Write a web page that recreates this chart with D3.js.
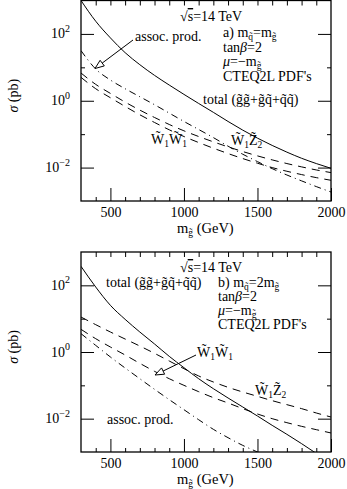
<!DOCTYPE html>
<html>
<head>
<meta charset="utf-8">
<script src="https://cdn.jsdelivr.net/npm/d3@7"></script>
<style>
body { margin: 0; background: #fff; }
svg { display: block; }
text { font-family: "Liberation Serif", "Times New Roman", serif; fill: #000; }
</style>
</head>
<body>
<div id="chart"></div>
<script>
// gluino mass grid (GeV)
var masses = [300,400,500,600,700,800,900,1000,1100,1200,1300,1400,1500,1600,1700,1800,1900,2000];

// panel a) m_squark = m_gluino, sigma in pb
var totalA = [1000,240,76,27.5,12,5.75,2.95,1.55,0.83,0.45,0.24,0.132,0.076,0.046,0.029,0.019,0.0132,0.0095];
var assocA = [31.6,8.9,4.17,2.29,1.32,0.76,0.427,0.24,0.138,0.079,0.0437,0.0251,0.0151,0.0093,0.006,0.004,0.0027,0.00186];
var w1z2A  = [6.76,3.09,1.66,0.912,0.525,0.316,0.195,0.126,0.0851,0.0589,0.0417,0.0302,0.0224,0.017,0.0132,0.0105,0.0085,0.00708];
var w1w1A  = [5.01,2.29,1.23,0.676,0.38,0.224,0.135,0.0851,0.0562,0.038,0.0263,0.0186,0.0135,0.01,0.00776,0.00617,0.00501,0.00417];

// panel b) m_squark = 2 m_gluino
var totalB = [372,89,25.1,9.55,3.98,1.74,0.741,0.339,0.158,0.0794,0.0417,0.0224,0.012,0.0063,0.00339,0.00178,0.00091,0.0005];
var assocB = [3.55,1.58,0.708,0.331,0.158,0.0759,0.0372,0.0186,0.0093,0.00479,0.00269,0.00158,0.001,0.00063];
var w1z2B  = [11.2,6.61,3.98,2.45,1.51,0.912,0.537,0.316,0.191,0.126,0.0871,0.0631,0.0468,0.0347,0.0263,0.02,0.0148,0.0112];
var w1w1B  = [4.79,2.51,1.41,0.813,0.457,0.263,0.158,0.1,0.0646,0.0427,0.0295,0.02,0.0138,0.01,0.00759,0.00589,0.00468,0.00372];

// ticks
var xMajor = [500,1000,1500,2000];
var xMinor = [400,600,700,800,900,1100,1200,1300,1400,1600,1700,1800,1900];
var xTop   = [400,500,600,700,800,900,1000,1100,1200,1300,1400,1500,1600,1700,1800,1900];
var yMajorExp = [-2,0,2];
var yMinorExp = [-1,1];

var W = 347, H = 489;
var left = 81, right = 331;
var panels = [
    {id: "a", top: 0.5, bottom: 201, total: totalA, assoc: assocA, w1z2: w1z2A, w1w1: w1w1A},
    {id: "b", top: 252, bottom: 452, total: totalB, assoc: assocB, w1z2: w1z2B, w1w1: w1w1B}
];

var svg = d3.select("#chart").append("svg")
    .attr("width", W)
    .attr("height", H);

var x = d3.scaleLinear().domain([300, 2000]).range([left, right]);

// rich text: parts = [text, shift(px, +down), fontSize, italic]
function rich(sel, parts, size) {
    var cur = 0;
    parts.forEach(function(p) {
        var shift = p[1] || 0;
        var t = sel.append("tspan")
            .attr("dy", shift - cur)
            .style("font-size", (p[2] || size) + "px")
            .text(p[0]);
        if (p[3]) t.style("font-style", "italic");
        cur = shift;
    });
    return sel;
}

function label(g, px, py, parts, size) {
    var t = g.append("text").attr("x", px).attr("y", py).style("font-size", size + "px");
    rich(t, parts, size);
    return t;
}

function arrow(g, x1, y1, x2, y2) {
    var dx = x1 - x2, dy = y1 - y2, len = Math.sqrt(dx*dx + dy*dy);
    var ux = dx / len, uy = dy / len, hl = 9, hw = 3.5;
    var bx = x2 + ux * hl, by = y2 + uy * hl;
    g.append("line")
        .attr("x1", x1).attr("y1", y1).attr("x2", bx).attr("y2", by)
        .attr("stroke", "#000").attr("stroke-width", 1);
    g.append("path")
        .attr("d", "M" + x2 + "," + y2 + "L" + (bx - uy*hw) + "," + (by + ux*hw) +
                   "L" + (bx + uy*hw) + "," + (by - ux*hw) + "Z")
        .attr("fill", "#fff").attr("stroke", "#000").attr("stroke-width", 1);
}

var T = "\u0303"; // combining tilde
var sub = 3, subSize = 9.5;

panels.forEach(function(p) {
    var y = d3.scaleLog().domain([1e-3, 1e3]).range([p.bottom, p.top]);
    var g = svg.append("g");

    g.append("clipPath").attr("id", "clip" + p.id)
        .append("rect").attr("x", left).attr("y", p.top)
        .attr("width", right - left).attr("height", p.bottom - p.top);

    // axes (ticks pointing inward)
    var ax = g.append("g").attr("transform", "translate(0," + p.bottom + ")")
        .call(d3.axisBottom(x).tickValues(xMajor).tickSize(-13).tickPadding(6).tickFormat(d3.format("d")));
    ax.selectAll("text").style("font-size", "14px").style("font-family", "Liberation Serif");
    g.append("g").attr("transform", "translate(0," + p.bottom + ")")
        .call(d3.axisBottom(x).tickValues(xMinor).tickSize(-4).tickFormat(""));
    g.append("g").attr("transform", "translate(0," + p.top + ")")
        .call(d3.axisTop(x).tickValues(xTop).tickSize(-5).tickFormat(""));

    var yMaj = yMajorExp.map(function(e) { return Math.pow(10, e); });
    var yMin = yMinorExp.map(function(e) { return Math.pow(10, e); });
    g.append("g").attr("transform", "translate(" + left + ",0)")
        .call(d3.axisLeft(y).tickValues(yMaj).tickSize(-13).tickFormat(""));
    g.append("g").attr("transform", "translate(" + left + ",0)")
        .call(d3.axisLeft(y).tickValues(yMin).tickSize(-4).tickFormat(""));
    g.append("g").attr("transform", "translate(" + right + ",0)")
        .call(d3.axisRight(y).tickValues(yMaj).tickSize(-13).tickFormat(""));
    g.append("g").attr("transform", "translate(" + right + ",0)")
        .call(d3.axisRight(y).tickValues(yMin).tickSize(-4).tickFormat(""));
    g.selectAll(".domain").remove();

    yMajorExp.forEach(function(e) {
        var t = g.append("text")
            .attr("x", 70).attr("y", y(Math.pow(10, e)) + 4.5)
            .attr("text-anchor", "end").style("font-size", "14px");
        rich(t, [["10", 0, 14], [e < 0 ? "\u2212" + (-e) : String(e), -6.5, 10]], 14);
    });

    // frame
    g.append("rect")
        .attr("x", left).attr("y", p.top)
        .attr("width", right - left).attr("height", p.bottom - p.top)
        .attr("fill", "none").attr("stroke", "#000").attr("stroke-width", 1.3);

    // curves
    var line = d3.line()
        .x(function(d) { return x(d[0]); })
        .y(function(d) { return y(d[1]); })
        .curve(d3.curveMonotoneX);
    function zip(vals) { return vals.map(function(v, i) { return [masses[i], v]; }); }
    var curves = g.append("g").attr("clip-path", "url(#clip" + p.id + ")");
    [[p.total, null], [p.w1z2, "8,6"], [p.w1w1, "8,6"], [p.assoc, "7,4,1,4"]].forEach(function(c) {
        curves.append("path")
            .attr("d", line(zip(c[0])))
            .attr("fill", "none")
            .attr("stroke", "#000")
            .attr("stroke-width", 1)
            .attr("stroke-dasharray", c[1]);
    });

    // axis titles
    var xt = g.append("text").attr("x", 177).attr("y", p.bottom + 32).style("font-size", "14.5px");
    rich(xt, [["m", 0, 14.5], ["g" + T, sub, subSize], [" (GeV)", 0, 14.5]], 14.5);
    g.append("text")
        .attr("transform", "translate(18," + ((p.top + p.bottom) / 2 - 5) + ") rotate(-90)")
        .attr("text-anchor", "middle").style("font-size", "14px")
        .call(function(t) { rich(t, [["\u03c3", 0, 14, true], [" (pb)", 0, 14]], 14); });
});

// annotations
var ann = svg.append("g");
var fs = 14;
function sqrtS(py) {
    var t = label(ann, 180, py, [["\u221a", 0, fs]], fs);
    t.append("tspan").style("text-decoration", "overline").text("s");
    t.append("tspan").text("=14 TeV");
}

// panel a
sqrtS(21);
label(ann, 223, 37, [["a) m", 0, fs], ["q" + T, sub, subSize], ["=m", 0, fs], ["g" + T, sub, subSize]], fs);
label(ann, 223, 51.5, [["tan", 0, fs], ["\u03b2", 0, fs, true], ["=2", 0, fs]], fs);
label(ann, 223, 66, [["\u03bc", 0, fs, true], ["=\u2212m", 0, fs], ["g" + T, sub, subSize]], fs);
label(ann, 223, 81, [["CTEQ2L PDF's", 0, fs]], fs);
label(ann, 135, 41, [["assoc. prod.", 0, fs]], fs);
arrow(ann, 133, 40, 95, 68.5);
label(ann, 203, 104, [["total (g" + T + "g" + T + "+g" + T + "q" + T + "+q" + T + "q" + T + ")", 0, fs]], fs);
label(ann, 151, 144, [["W" + T, 0, fs], ["1", sub, subSize], ["W" + T, 0, fs], ["1", sub, subSize]], fs);
label(ann, 231, 145, [["W" + T, 0, fs], ["1", sub, subSize], ["Z" + T, 0, fs], ["2", sub, subSize]], fs);

// panel b
sqrtS(272);
label(ann, 106, 287, [["total (g" + T + "g" + T + "+g" + T + "q" + T + "+q" + T + "q" + T + ")", 0, fs]], fs);
label(ann, 218, 287, [["b) m", 0, fs], ["q" + T, sub, subSize], ["=2m", 0, fs], ["g" + T, sub, subSize]], fs);
label(ann, 218, 300.5, [["tan", 0, fs], ["\u03b2", 0, fs, true], ["=2", 0, fs]], fs);
label(ann, 218, 314.5, [["\u03bc", 0, fs, true], ["=\u2212m", 0, fs], ["g" + T, sub, subSize]], fs);
label(ann, 218, 328.5, [["CTEQ2L PDF's", 0, fs]], fs);
label(ann, 197, 357, [["W" + T, 0, fs], ["1", sub, subSize], ["W" + T, 0, fs], ["1", sub, subSize]], fs);
arrow(ann, 196, 355, 155, 375);
label(ann, 255, 395, [["W" + T, 0, fs], ["1", sub, subSize], ["Z" + T, 0, fs], ["2", sub, subSize]], fs);
label(ann, 107, 424, [["assoc. prod.", 0, fs]], fs);
</script>
</body>
</html>
